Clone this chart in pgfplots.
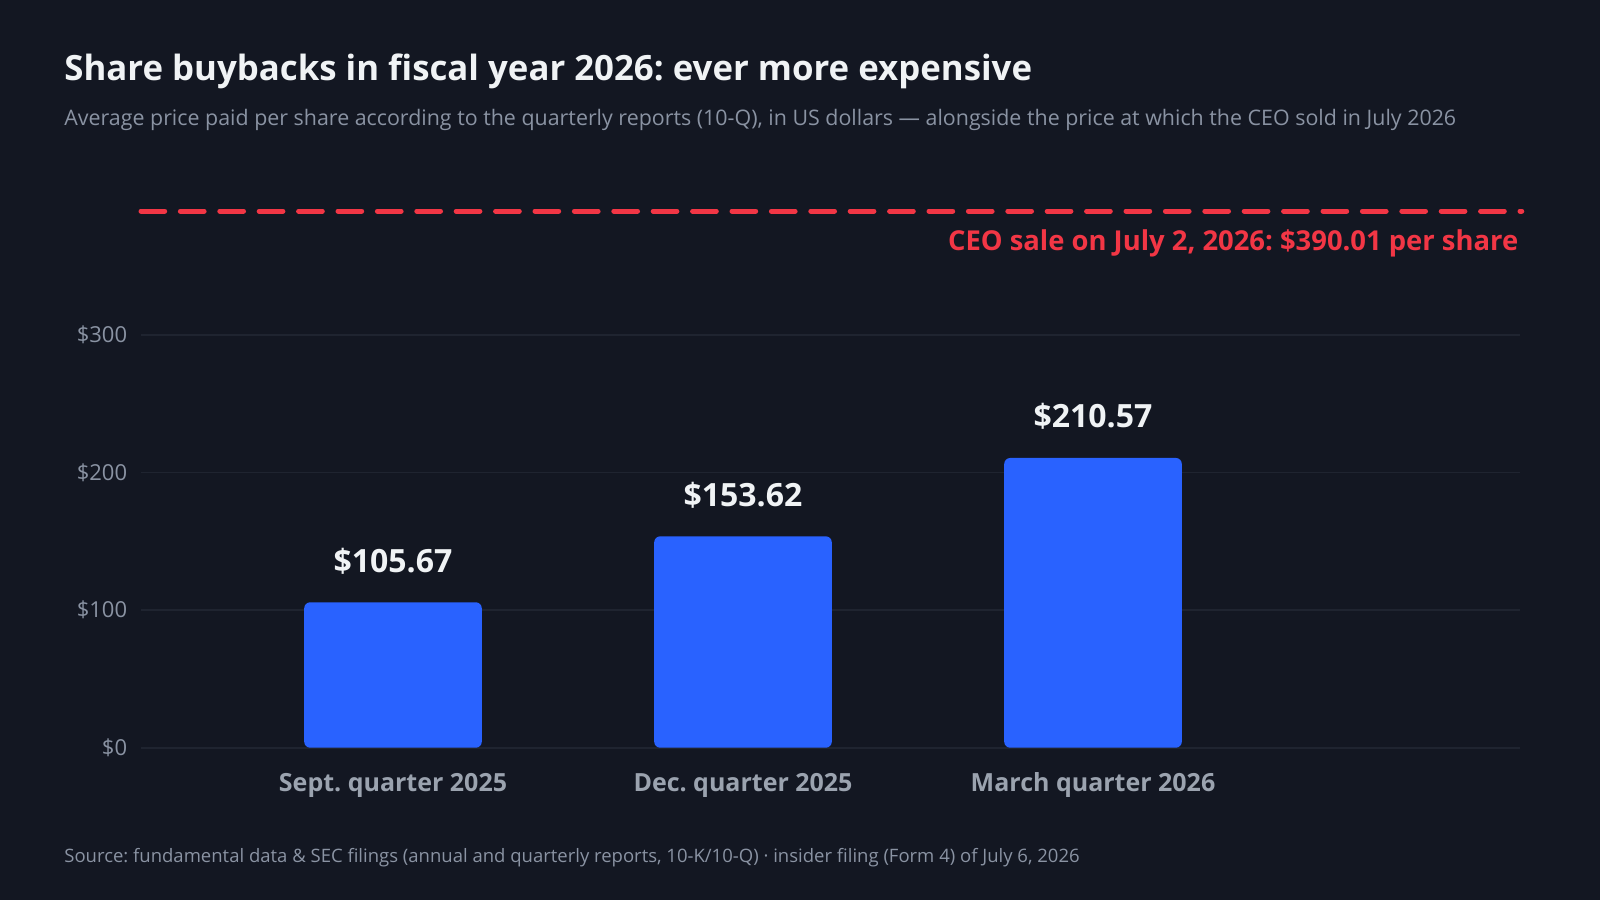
\documentclass[border=0pt]{standalone}
\usepackage{pgfplots}
\pgfplotsset{compat=1.18}
\usepackage{fontspec}
\setmainfont{Open Sans}
\frenchspacing
\definecolor{bg}{HTML}{131722}
\definecolor{barblue}{HTML}{2962FF}
\definecolor{sale}{HTML}{F23645}
\definecolor{txt}{HTML}{F0F3F5}
\definecolor{muted}{HTML}{8A93A3}
\definecolor{tickc}{HTML}{9BA3AF}
\definecolor{gridc}{HTML}{1F2430}
\begin{document}
\begin{tikzpicture}
\fill[bg] (0pt,0pt) rectangle (800pt,450pt);
\node[anchor=base west, inner sep=0, text=txt, font=\fontsize{17.4}{20}\selectfont\bfseries] at (32pt,409.5pt) {Share buybacks in fiscal year 2026: ever more expensive};
\node[anchor=base west, inner sep=0, text=muted, font=\fontsize{10.7}{12}\selectfont] at (32pt,387pt) {Average price paid per share according to the quarterly reports (10-Q), in US dollars — alongside the price at which the CEO sold in July 2026};
\node[anchor=base west, inner sep=0, text=muted, font=\fontsize{9.25}{11}\selectfont] at (32pt,18.85pt) {Source: fundamental data \& SEC filings (annual and quarterly reports, 10-K/10-Q) · insider filing (Form 4) of July 6, 2026};
\begin{axis}[
  at={(70.5pt,76.15pt)}, anchor=south west,
  scale only axis, width=689.5pt, height=275.2pt,
  xmin=-0.72, xmax=3.22, ymin=0, ymax=400,
  clip=false,
  axis line style={draw=none},
  major tick length=0pt,
  ymajorgrids, grid style={draw=gridc, line width=0.9pt},
  xtick={0,1,2},
  xticklabels={Sept. quarter 2025, Dec. quarter 2025, March quarter 2026},
  xticklabel style={anchor=base, inner sep=0pt, yshift=-22pt, text=tickc, font=\fontsize{12.5}{14}\selectfont\bfseries},
  ytick={0,100,200,300},
  yticklabels={\$0,\$100,\$200,\$300},
  yticklabel style={anchor=east, inner sep=0pt, xshift=-6.75pt, text=muted, font=\fontsize{11}{13}\selectfont},
  /pgf/number format/assume math mode=true,
]
\addplot[ybar, bar width=88.8pt, fill=barblue, draw=none, rounded corners=3pt,
  nodes near coords={\$\pgfmathprintnumber[fixed,fixed zerofill,precision=2]{\pgfplotspointmeta}},
  every node near coord/.append style={anchor=base, yshift=15pt, text=txt, font=\fontsize{16}{18}\selectfont\bfseries}]
  coordinates {(0,105.67) (1,153.62) (2,210.57)};
\addplot[sale, line width=2.5pt, dash pattern=on 11.85pt off 7.85pt, line cap=round, forget plot]
  coordinates {(-0.72,390.01) (3.225,390.01)};
\node[anchor=base east, inner sep=0pt, yshift=-19.65pt, text=sale, font=\fontsize{13.7}{15}\selectfont\bfseries] at (axis cs:3.216,390.01) {CEO sale on July 2, 2026: \$390.01 per share};
\end{axis}
\end{tikzpicture}
\end{document}
